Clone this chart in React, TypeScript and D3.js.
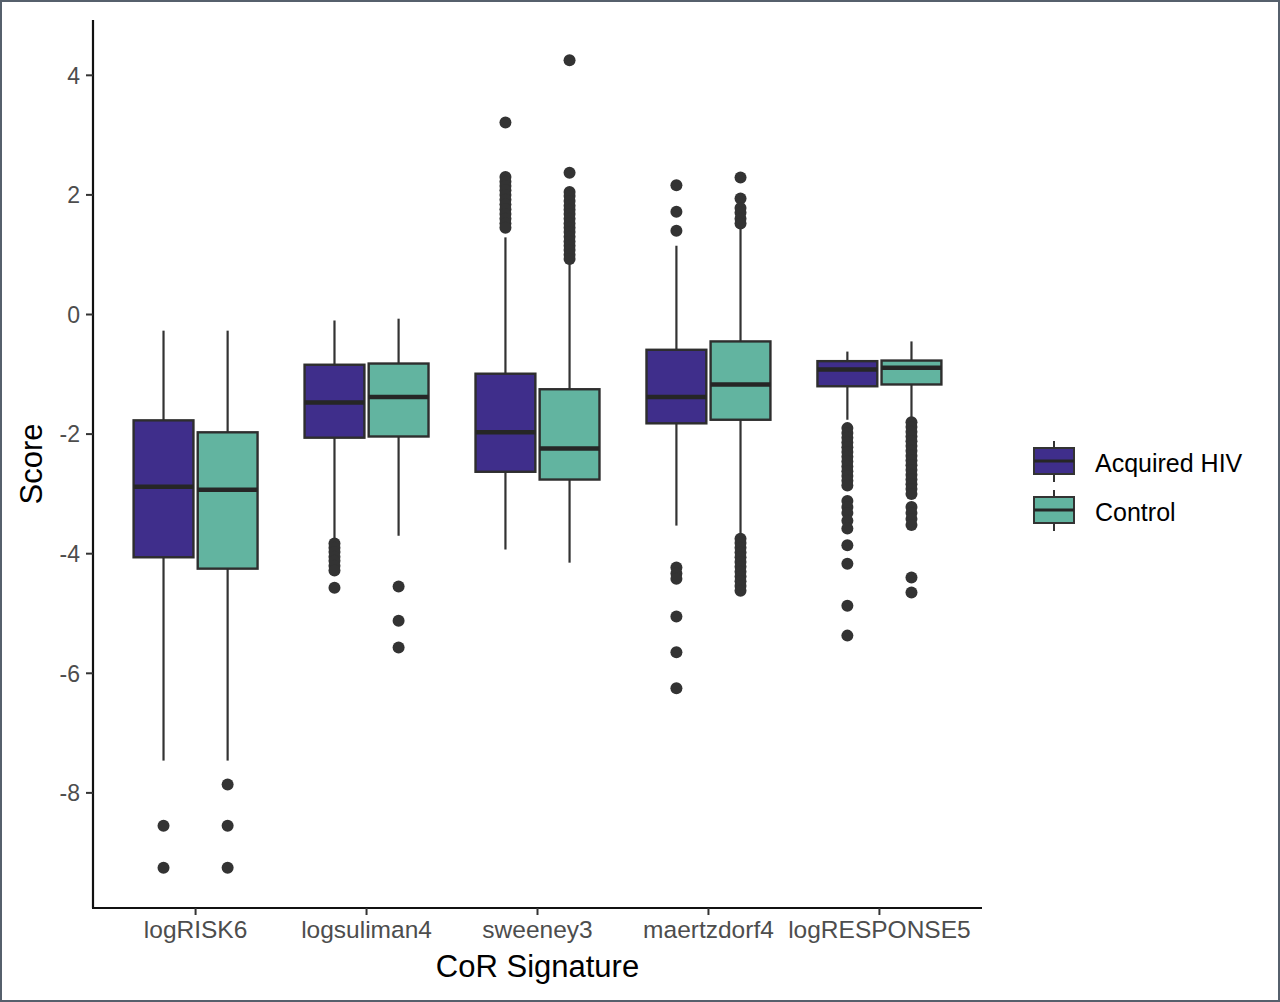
import * as d3 from 'd3';

// categories and groups
const signatures = ['logRISK6', 'logsuliman4', 'sweeney3', 'maertzdorf4', 'logRESPONSE5'];
const groups = ['Acquired HIV', 'Control'];
const yTicks = [4, 2, 0, -2, -4, -6, -8];

// Acquired HIV box stats (per signature)
const hivUpper = [-0.27, -0.1, 1.29, 1.15, -0.62];
const hivQ3 = [-1.77, -0.84, -0.99, -0.59, -0.78];
const hivMedian = [-2.88, -1.47, -1.97, -1.38, -0.92];
const hivQ1 = [-4.06, -2.06, -2.63, -1.82, -1.2];
const hivLower = [-7.46, -3.78, -3.93, -3.53, -1.76];
const hivOutliers = [
  [-8.55, -9.25],
  [-3.83, -3.9, -3.97, -4.05, -4.12, -4.2, -4.28, -4.57],
  [3.21, 2.3, 2.22, 2.15, 2.08, 2.0, 1.92, 1.84, 1.76, 1.68, 1.6, 1.52, 1.45],
  [2.16, 1.72, 1.4, -4.23, -4.33, -4.42, -5.05, -5.65, -6.25],
  [-1.9, -1.98, -2.06, -2.14, -2.22, -2.3, -2.38, -2.46, -2.54, -2.62, -2.7, -2.78, -2.86,
    -3.12, -3.22, -3.32, -3.45, -3.58, -3.86, -4.17, -4.87, -5.37]
];

// Control box stats (per signature)
const ctrlUpper = [-0.27, -0.07, 0.9, 1.46, -0.45];
const ctrlQ3 = [-1.97, -0.82, -1.25, -0.45, -0.77];
const ctrlMedian = [-2.93, -1.38, -2.24, -1.17, -0.89];
const ctrlQ1 = [-4.25, -2.04, -2.76, -1.76, -1.17];
const ctrlLower = [-7.46, -3.7, -4.15, -3.73, -1.76];
const ctrlOutliers = [
  [-7.86, -8.55, -9.25],
  [-4.55, -5.12, -5.57],
  [4.25, 2.37, 2.05, 1.98, 1.9, 1.82, 1.75, 1.68, 1.6, 1.52, 1.45, 1.38, 1.3, 1.22, 1.15, 1.08, 1.0, 0.93],
  [2.29, 1.94, 1.78, 1.7, 1.6, 1.52, -3.75, -3.82, -3.9, -3.98, -4.06, -4.14, -4.22, -4.3, -4.38, -4.46, -4.54, -4.62],
  [-1.8, -1.88, -1.96, -2.04, -2.12, -2.2, -2.28, -2.36, -2.44, -2.52, -2.6, -2.68, -2.76, -2.84, -2.92, -3.0,
    -3.22, -3.32, -3.42, -3.52, -4.4, -4.65]
];

const colors = ['#3f2e8b', '#62b4a0'];
const font = '"Liberation Sans", Arial, sans-serif';

export default function App() {
  const width = 1280;
  const height = 1002;
  const plot = { left: 93, right: 982, top: 20, bottom: 908 };

  const x = d3.scaleBand<string>()
    .domain(signatures)
    .range([plot.left, plot.right])
    .paddingInner(0)
    .paddingOuter(0.1);
  const step = x.bandwidth();
  const dodge = d3.scaleBand<string>()
    .domain(groups)
    .range([-0.375 * step, 0.375 * step]);
  const boxW = 0.35 * step;

  const y = d3.scaleLinear()
    .domain([-9.925, 4.925])
    .range([plot.bottom, plot.top]);

  const series = [
    { upper: hivUpper, q3: hivQ3, median: hivMedian, q1: hivQ1, lower: hivLower, outliers: hivOutliers },
    { upper: ctrlUpper, q3: ctrlQ3, median: ctrlMedian, q1: ctrlQ1, lower: ctrlLower, outliers: ctrlOutliers }
  ];

  return (
    <svg width={width} height={height} style={{ position: 'absolute', top: 0, left: 0, background: '#fff' }}>
      <rect x={1} y={1} width={width - 2} height={height - 2} fill="#fff" stroke="#56606c" strokeWidth={2} />

      {/* boxes */}
      {series.map((s, gi) => (
        <g key={groups[gi]}>
          {signatures.map((sig, i) => {
            const cx = (x(sig) as number) + step / 2 + (dodge(groups[gi]) as number) + dodge.bandwidth() / 2;
            return (
              <g key={sig}>
                <line x1={cx} x2={cx} y1={y(s.upper[i])} y2={y(s.q3[i])} stroke="#333" strokeWidth={2.2} />
                <line x1={cx} x2={cx} y1={y(s.q1[i])} y2={y(s.lower[i])} stroke="#333" strokeWidth={2.2} />
                <rect x={cx - boxW / 2} y={y(s.q3[i])} width={boxW} height={y(s.q1[i]) - y(s.q3[i])}
                  fill={colors[gi]} stroke="#2e2e2e" strokeWidth={2.4} />
                <line x1={cx - boxW / 2} x2={cx + boxW / 2} y1={y(s.median[i])} y2={y(s.median[i])}
                  stroke="#262626" strokeWidth={4.5} />
                {s.outliers[i].map((v, k) => (
                  <circle key={k} cx={cx} cy={y(v)} r={6} fill="#333" />
                ))}
              </g>
            );
          })}
        </g>
      ))}

      {/* axes */}
      <line x1={plot.left} x2={plot.left} y1={plot.top} y2={plot.bottom} stroke="#111" strokeWidth={2.2} />
      <line x1={plot.left - 1} x2={plot.right} y1={plot.bottom} y2={plot.bottom} stroke="#111" strokeWidth={2.2} />
      {yTicks.map(t => (
        <g key={t}>
          <line x1={plot.left - 7} x2={plot.left} y1={y(t)} y2={y(t)} stroke="#333" strokeWidth={2} />
          <text x={plot.left - 13} y={y(t)} dy="0.36em" textAnchor="end" fontFamily={font} fontSize={23} fill="#4d4d4d">
            {t < 0 ? `-${Math.abs(t)}` : t}
          </text>
        </g>
      ))}
      {signatures.map(sig => {
        const cx = (x(sig) as number) + step / 2;
        return (
          <g key={sig}>
            <line x1={cx} x2={cx} y1={plot.bottom} y2={plot.bottom + 7} stroke="#333" strokeWidth={2} />
            <text x={cx} y={938} textAnchor="middle" fontFamily={font} fontSize={24.5} fill="#4d4d4d">{sig}</text>
          </g>
        );
      })}
      <text x={(plot.left + plot.right) / 2} y={977} textAnchor="middle" fontFamily={font} fontSize={31} fill="#000">
        CoR Signature
      </text>
      <text transform={`translate(42, ${(plot.top + plot.bottom) / 2}) rotate(-90)`} textAnchor="middle"
        fontFamily={font} fontSize={31} fill="#000">Score</text>

      {/* legend */}
      {groups.map((g, gi) => {
        const top = 448 + gi * 49;
        return (
          <g key={g}>
            <line x1={1054} x2={1054} y1={top - 7} y2={top + 34} stroke="#333" strokeWidth={2} />
            <rect x={1034} y={top} width={40} height={26} fill={colors[gi]} stroke="#333" strokeWidth={2} />
            <line x1={1034} x2={1074} y1={top + 13} y2={top + 13} stroke="#262626" strokeWidth={3} />
            <text x={1095} y={top + 24} fontFamily={font} fontSize={25} fill="#000">{g}</text>
          </g>
        );
      })}
    </svg>
  );
}
